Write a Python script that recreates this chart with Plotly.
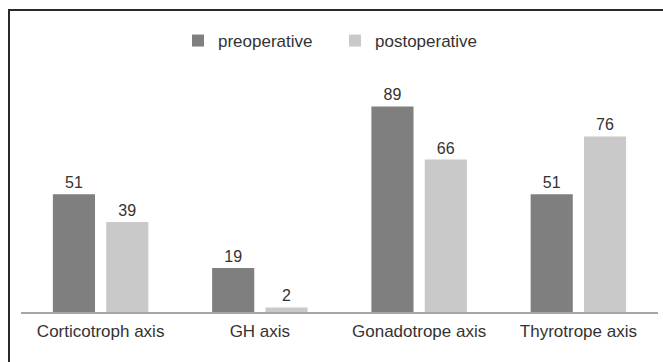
import plotly.graph_objects as go

categories = ["Corticotroph axis", "GH axis", "Gonadotrope axis", "Thyrotrope axis"]
preoperative = [51, 19, 89, 51]
postoperative = [39, 2, 66, 76]
series_names = ["preoperative", "postoperative"]

FONT = "Liberation Sans, Arial, Helvetica, sans-serif"
TXT = "#333333"

W, H = 663, 362
ML, MR, MT, MB = 21, 5, 81, 50
PW, PH = W - ML - MR, H - MT - MB

fig = go.Figure()
fig.add_trace(go.Bar(
    x=categories, y=preoperative, name=series_names[0],
    marker=dict(color="#7f7f7f", line=dict(width=0)),
    text=preoperative, textposition="outside",
    textfont=dict(size=16, color=TXT, family=FONT), cliponaxis=False,
))
fig.add_trace(go.Bar(
    x=categories, y=postoperative, name=series_names[1],
    marker=dict(color="#c9c9c9", line=dict(width=0)),
    text=postoperative, textposition="outside",
    textfont=dict(size=16, color=TXT, family=FONT), cliponaxis=False,
))

def px_x(p):
    return (p - ML) / PW

def px_y(p):
    return (H - MB - p) / PH

fig.update_layout(
    width=W, height=H,
    margin=dict(l=ML, r=MR, t=MT, b=MB),
    paper_bgcolor="white", plot_bgcolor="white",
    barmode="group", bargap=0.33, bargroupgap=0.21,
    font=dict(family=FONT, color=TXT, size=17),
    showlegend=True,
    legend=dict(
        orientation="h", x=px_x(178), xanchor="left",
        y=px_y(41), yanchor="middle",
        font=dict(size=17, color=TXT, family=FONT),
        bgcolor="rgba(0,0,0,0)", borderwidth=0,
        itemwidth=30, traceorder="normal",
        entrywidth=112, entrywidthmode="pixels",
    ),
    xaxis=dict(
        showline=True, linecolor="#a6a6a6", linewidth=1.5,
        showgrid=False, zeroline=False, ticks="",
        tickfont=dict(size=17, color=TXT, family=FONT),
        ticklabelstandoff=3,
        fixedrange=True,
    ),
    yaxis=dict(
        range=[0, 100], visible=False, showgrid=False, zeroline=False,
        fixedrange=True,
    ),
    shapes=[
        dict(type="line", xref="paper", yref="paper",
             x0=px_x(9), x1=px_x(9), y0=px_y(10), y1=px_y(400),
             line=dict(color="#2a2a2a", width=2)),
        dict(type="line", xref="paper", yref="paper",
             x0=px_x(8), x1=px_x(700), y0=px_y(10), y1=px_y(10),
             line=dict(color="#2a2a2a", width=2)),
    ],
)

fig.write_html(
    "out.html",
    config={"displayModeBar": False},
    post_script="document.body.style.margin='0';document.body.style.padding='0';document.body.style.overflow='hidden';",
)
